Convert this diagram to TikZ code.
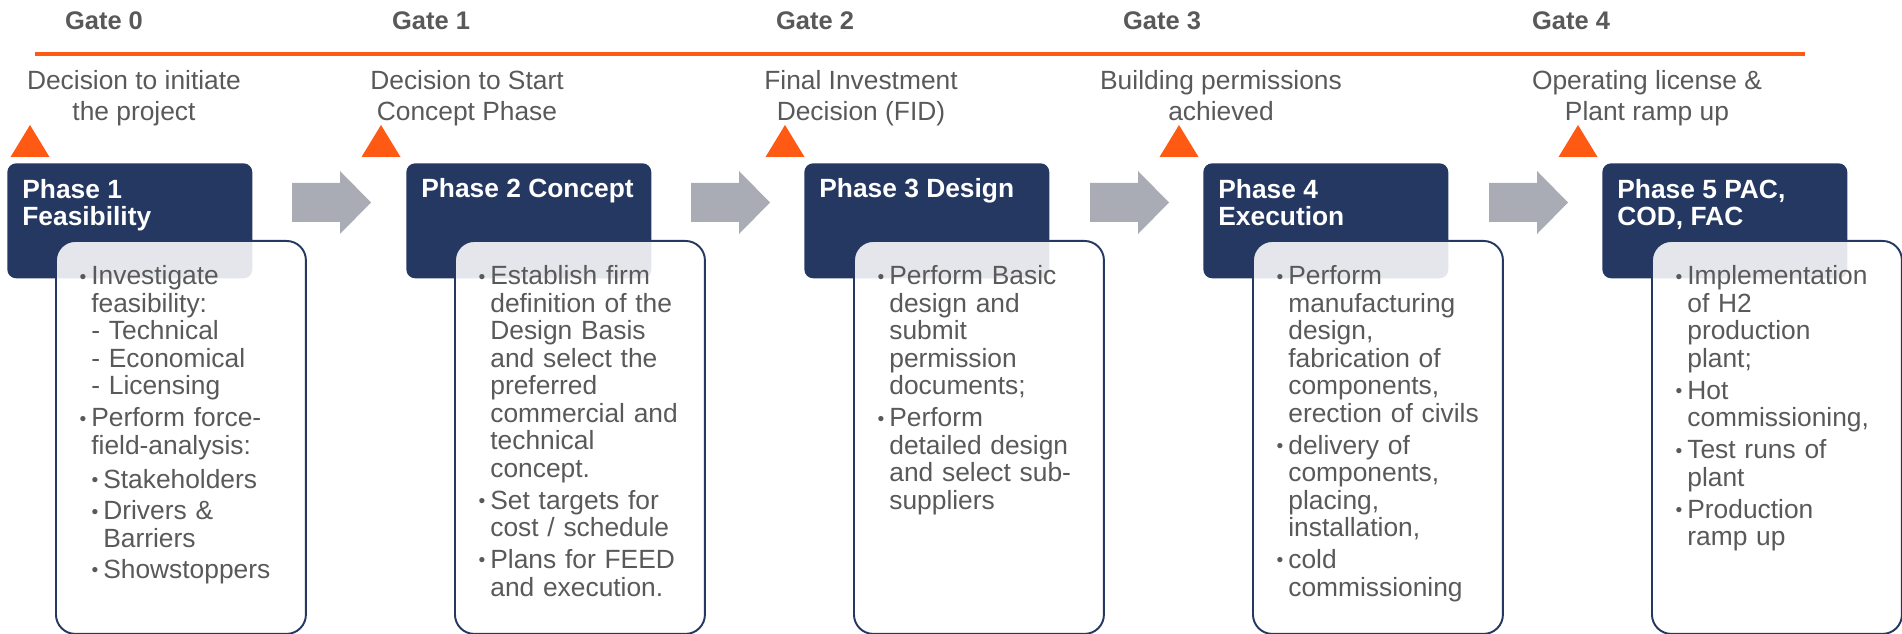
\documentclass[tikz,border=0pt]{standalone}
\usepackage{fontspec}
\setmainfont{Liberation Sans}

\definecolor{navy}{HTML}{253862}
\definecolor{gateorange}{HTML}{FF5A14}
\definecolor{arrowgray}{HTML}{A9ACB5}
\definecolor{txtgray}{HTML}{595959}

\newcommand{\bul}{\leavevmode\llap{{\fontsize{11}{11}\selectfont\raisebox{1pt}{\textbullet}}\hspace{2.8pt}}}
\newcommand{\subbul}{\leavevmode\hspace*{6.8pt}\bul}

\tikzset{
	gate/.style={font=\bfseries\fontsize{14.5}{16}\selectfont, text=txtgray, inner sep=0, anchor=base},
	decision/.style={font=\fontsize{15}{18.2}\selectfont, text=txtgray, align=center, inner sep=0, anchor=base},
	phasebox/.style={fill=navy, rounded corners=5pt, minimum width=4.9cm, minimum height=2.3cm, anchor=north west, inner sep=0},
	phasetext/.style={font=\bfseries\fontsize{15}{15.4}\selectfont, text=white, align=left, inner sep=0, anchor=base west},
	taskbox/.style={draw=navy, line width=1.1pt, fill=white, fill opacity=0.88, rounded corners=11pt, minimum width=5cm, minimum height=7.86cm, anchor=north west, inner sep=0},
	tasktext/.style={font=\fontsize{15}{15.65}\selectfont, text=txtgray, text width=4.8cm, align=left, inner sep=0, anchor=base west},
	nextarrow/.style={fill=arrowgray},
	milestone/.style={fill=gateorange},
}

\begin{document}
\begin{tikzpicture}[x=0.02cm, y=-0.02cm]
		\useasboundingbox (0,0) rectangle (1902,634);
		
		% gates
		\node[gate] (g0) at (104,30) {Gate 0};
		\node[gate] (g1) at (431,30) {Gate 1};
		\node[gate] (g2) at (815,30) {Gate 2};
		\node[gate] (g3) at (1162,30) {Gate 3};
		\node[gate] (g4) at (1571,30) {Gate 4};
		
		\draw[line width=2pt, gateorange] (35,54) -- (1805,54);
		
		% decisions (base = last line)
		\node[decision] (d0) at (134,121) {Decision to initiate\\the project};
		\node[decision] (d1) at (467,121) {Decision to Start\\Concept Phase};
		\node[decision] (d2) at (861,121) {Final Investment\\Decision (FID)};
		\node[decision] (d3) at (1221,121) {Building permissions\\achieved};
		\node[decision] (d4) at (1647,121) {Operating license \&\\Plant ramp up};
		
		\foreach \tx in {30,381,785,1179,1578}
		\fill[milestone] (\tx-19.5,157) -- (\tx+19.5,157) -- (\tx,125) -- cycle;
		
		% phases
		\node[phasebox] (ph1) at (7,163) {};
		\node[phasebox] (ph2) at (406,163) {};
		\node[phasebox] (ph3) at (804,163) {};
		\node[phasebox] (ph4) at (1203,163) {};
		\node[phasebox] (ph5) at (1602,163) {};
		
		\foreach \ax in {292,691,1090,1489}
		\fill[nextarrow] (\ax,183) -- (\ax+48,183) -- (\ax+48,171) -- (\ax+79,202.5)
		-- (\ax+48,234) -- (\ax+48,222) -- (\ax,222) -- cycle;
		
		\node[phasetext] (ph1t) at (22,226) {Phase 1\\Feasibility};
		\node[phasetext] (ph2t) at (421,198) {Phase 2 Concept};
		\node[phasetext] (ph3t) at (819,198) {Phase 3 Design};
		\node[phasetext] (ph4t) at (1218,226) {Phase 4\\Execution};
		\node[phasetext] (ph5t) at (1617,226) {Phase 5 PAC,\\COD, FAC};
		
		% tasks
		\node[taskbox] (t1) at (55,240) {};
		\node[taskbox] (t2) at (454,240) {};
		\node[taskbox] (t3) at (853,240) {};
		\node[taskbox] (t4) at (1252,240) {};
		\node[taskbox] (t5) at (1651,240) {};
		
		\node[tasktext] (t1t) at (91,285) {\bul Investigate\\feasibility:\\- Technical\\- Economical\\- Licensing\\[2.5pt]\bul Perform force-\\field-analysis:\\[3.5pt]\subbul Stakeholders\\[2.5pt]\subbul Drivers \&\\\hspace*{6.8pt}Barriers\\[2pt]\subbul Showstoppers};
		\node[tasktext] (t2t) at (490,285) {\bul Establish firm\\definition of the\\Design Basis\\and select the\\preferred\\commercial and\\technical\\concept.\\[2.5pt]\bul Set targets for\\cost / schedule\\[2.5pt]\bul Plans for FEED\\and execution.};
		\node[tasktext] (t3t) at (889,285) {\bul Perform Basic\\design and\\submit\\permission\\documents;\\[2.5pt]\bul Perform\\detailed design\\and select sub-\\suppliers};
		\node[tasktext] (t4t) at (1288,285) {\bul Perform\\manufacturing\\design,\\fabrication of\\components,\\erection of civils\\[2.5pt]\bul delivery of\\components,\\placing,\\installation,\\[2.5pt]\bul cold\\commissioning};
		\node[tasktext] (t5t) at (1687,285) {\bul Implementation\\of H2\\production\\plant;\\[2.5pt]\bul Hot\\commissioning,\\[2.5pt]\bul Test runs of\\plant\\[2.5pt]\bul Production\\ramp up};
		
\end{tikzpicture}
\end{document}
